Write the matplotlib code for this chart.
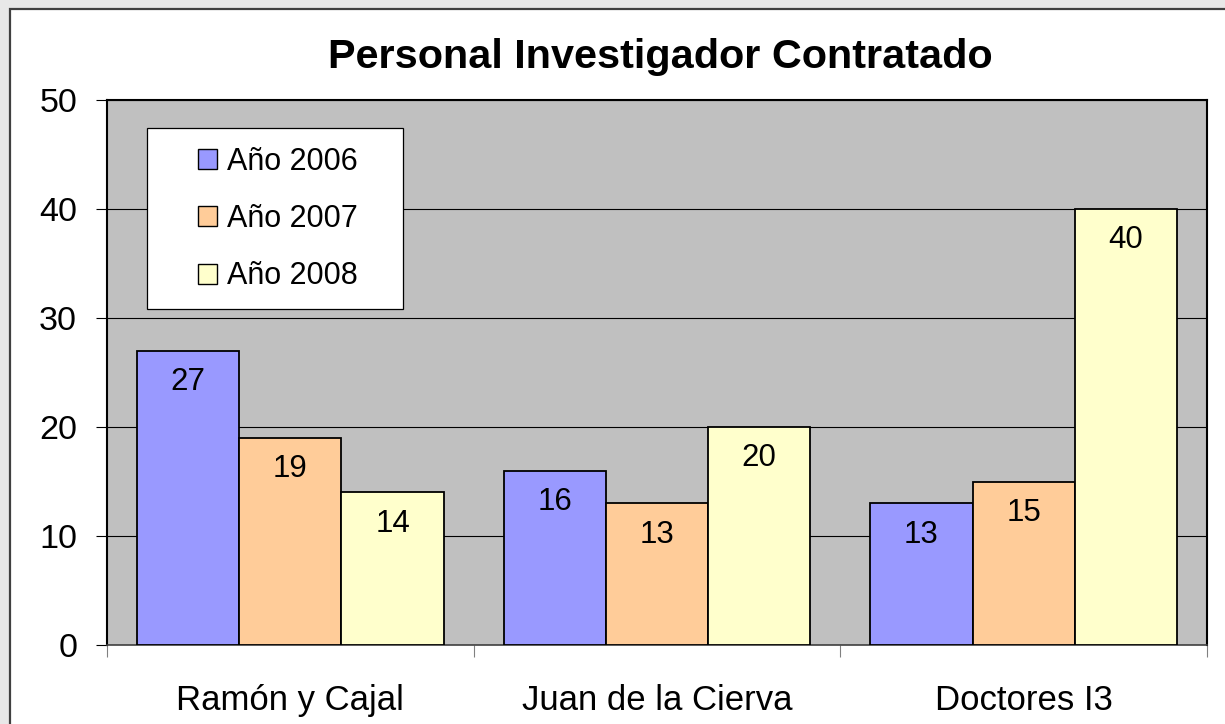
import matplotlib
matplotlib.use("Agg")
import matplotlib.pyplot as plt
import numpy as np
from matplotlib.patches import Rectangle, Patch

plt.rcParams['font.family'] = ['Liberation Sans', 'DejaVu Sans']

categories = ["Ramón y Cajal", "Juan de la Cierva", "Doctores I3"]
series_names = ["Año 2006", "Año 2007", "Año 2008"]
values_2006 = [27, 16, 13]
values_2007 = [19, 13, 15]
values_2008 = [14, 20, 40]
colors = ["#9999FF", "#FFCC99", "#FFFFCC"]
title = "Personal Investigador Contratado"
yticks = [0, 10, 20, 30, 40, 50]

fig = plt.figure(figsize=(12.25, 7.24), dpi=100)
fig.patch.set_facecolor("#E8E8E8")
# outer chart frame
fig.patches.append(Rectangle((10/1225, -0.05), 1.05, 1 - 8.5/724 + 0.05,
                             transform=fig.transFigure, facecolor="white",
                             edgecolor="#404040", linewidth=1.6, zorder=-5))

ax = fig.add_axes([107/1225, 1 - 645/724, 1100/1225, 545/724])
ax.set_zorder(2)
ax.set_facecolor("#C0C0C0")

x = np.arange(len(categories))
w = 0.279
all_vals = [values_2006, values_2007, values_2008]
for i, (vals, col, name) in enumerate(zip(all_vals, colors, series_names)):
    bars = ax.bar(x + (i - 1) * w, vals, width=w, color=col, edgecolor="black",
                  linewidth=1.3, label=name, zorder=3)
    for b, v in zip(bars, vals):
        ax.annotate(str(v), (b.get_x() + b.get_width() / 2, b.get_height()),
                    xytext=(0, -22.5), textcoords="offset points",
                    ha="center", va="center", fontsize=22.5, zorder=4)

ax.set_xlim(-0.5, len(categories) - 0.5)
ax.set_ylim(0, 50)
ax.set_yticks(yticks)
ax.set_yticklabels([str(t) for t in yticks], fontsize=24.6)
ax.yaxis.grid(True, color="black", linewidth=0.8, zorder=1)
ax.set_axisbelow(True)
ax.tick_params(axis="y", direction="out", length=8, width=0.8, pad=13.5)

ax.set_xticks(x)
ax.set_xticklabels(categories, fontsize=25)
ax.set_xticks(np.arange(-0.5, len(categories)), minor=True)
ax.tick_params(axis="x", which="major", length=0, pad=28)
ax.tick_params(axis="x", which="minor", length=8.5, width=0.8, color="#808080")

for s in ["left", "top", "right"]:
    ax.spines[s].set_color("black")
    ax.spines[s].set_linewidth(1.5)
ax.spines["bottom"].set_color("#404040")
ax.spines["bottom"].set_linewidth(1.2)

fig.text(660/1225, 1 - 57/724, title, ha="center", va="center",
         fontsize=29.8, fontweight="bold")

# legend box
ax.add_patch(Rectangle(((147 - 107) / 1100, (645 - 309) / 545),
                       (402.7 - 147) / 1100, (309 - 128) / 545,
                       transform=ax.transAxes, facecolor="white",
                       edgecolor="black", linewidth=0.9, zorder=5))
handles = [Patch(facecolor=c, edgecolor="black", linewidth=1.0) for c in colors]
leg = ax.legend(handles, series_names, loc="center",
                bbox_to_anchor=((277.5 - 107) / 1100, (645 - 219) / 545),
                frameon=False, fontsize=22, handlelength=0.62,
                handleheight=0.62, handletextpad=0.33, labelspacing=0.9,
                borderpad=0)
leg.set_zorder(6)

fig.savefig("out.png", dpi=100, facecolor=fig.get_facecolor())
